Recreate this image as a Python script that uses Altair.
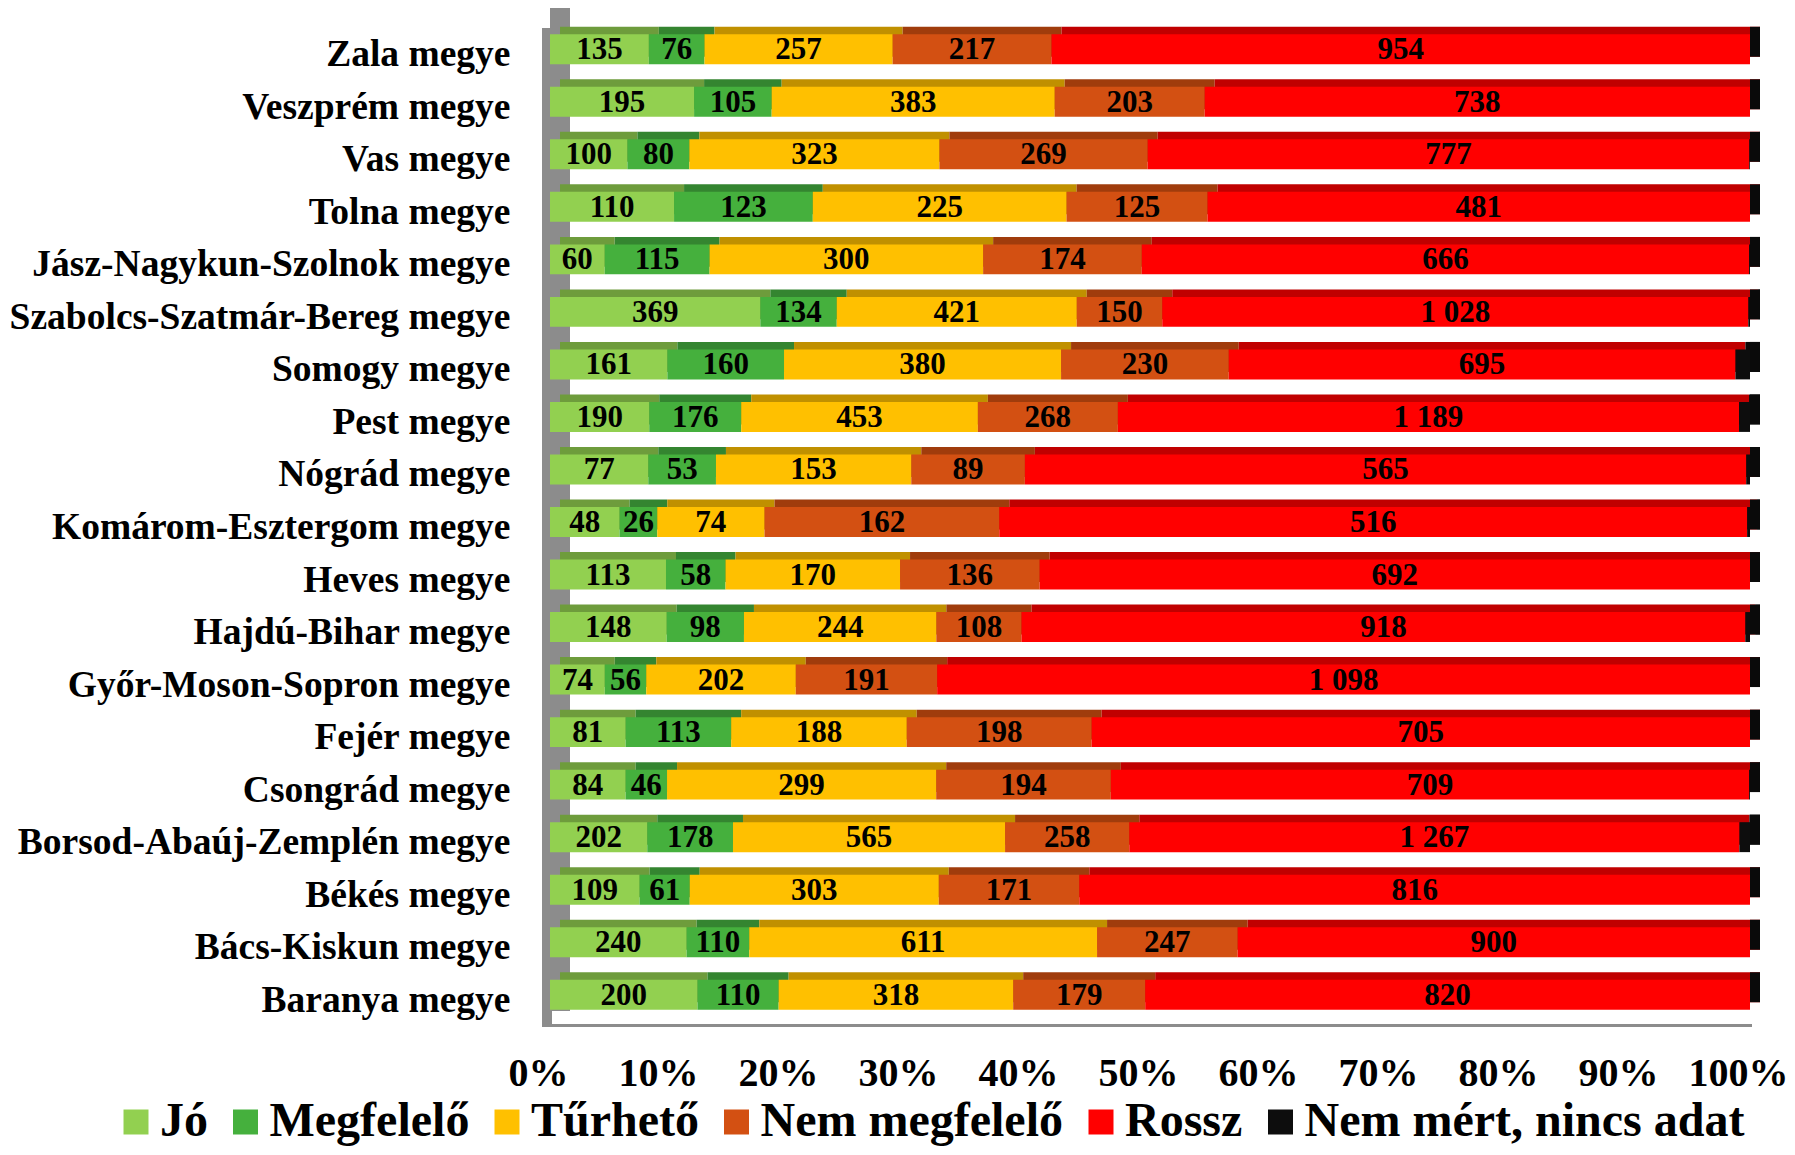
import altair as alt
import pandas as pd

counties = ["Zala megye", "Veszprém megye", "Vas megye", "Tolna megye",
            "Jász-Nagykun-Szolnok megye", "Szabolcs-Szatmár-Bereg megye",
            "Somogy megye", "Pest megye", "Nógrád megye", "Komárom-Esztergom megye",
            "Heves megye", "Hajdú-Bihar megye", "Győr-Moson-Sopron megye",
            "Fejér megye", "Csongrád megye", "Borsod-Abaúj-Zemplén megye",
            "Békés megye", "Bács-Kiskun megye", "Baranya megye"]

jo = [135, 195, 100, 110, 60, 369, 161, 190, 77, 48, 113, 148, 74, 81, 84, 202, 109, 240, 200]
megfelelo = [76, 105, 80, 123, 115, 134, 160, 176, 53, 26, 58, 98, 56, 113, 46, 178, 61, 110, 110]
turheto = [257, 383, 323, 225, 300, 421, 380, 453, 153, 74, 170, 244, 202, 188, 299, 565, 303, 611, 318]
nem_megfelelo = [217, 203, 269, 125, 174, 150, 230, 268, 89, 162, 136, 108, 191, 198, 194, 258, 171, 247, 179]
rossz = [954, 738, 777, 481, 666, 1028, 695, 1189, 565, 516, 692, 918, 1098, 705, 709, 1267, 816, 900, 820]
nem_mert = [0, 0, 1, 0, 1, 3, 20, 21, 3, 2, 0, 6, 0, 0, 1, 22, 0, 0, 0]

categories = ["Jó", "Megfelelő", "Tűrhető", "Nem megfelelő", "Rossz", "Nem mért, nincs adat"]
series = [jo, megfelelo, turheto, nem_megfelelo, rossz, nem_mert]
colors = ["#92D050", "#45B03D", "#FFC000", "#D35012", "#FF0000", "#0D0D0D"]
dark_colors = ["#6E9C3C", "#348530", "#C09000", "#A03C0C", "#C00000", "#080808"]

def fmt(v):
    return f"{v:,}".replace(",", " ")

rows = []
for i, c in enumerate(counties):
    for k, cat in enumerate(categories):
        v = series[k][i]
        rows.append({"county": c, "cat": cat, "order": k, "value": v,
                     "label": fmt(v) if k < 5 else "", "dark": dark_colors[k]})
df = pd.DataFrame(rows)

FONT = "Liberation Serif"
WALL = "#8C8C8C"
x_scale = alt.Scale(domain=[0, 1], nice=False, zero=True)
x_axis = alt.Axis(values=[i / 10 for i in range(11)], format=".0%", grid=False, domain=False,
                  ticks=False, labelFont=FONT, labelFontSize=40, labelFontWeight="bold",
                  labelColor="black", labelPadding=32, labelOffset=-12, labelFlush=False,
                  labelOverlap=False, title=None)
y_axis = alt.Axis(domain=False, ticks=False, labelFont=FONT, labelFontSize=37.5,
                  labelFontWeight="bold", labelColor="black", labelPadding=40,
                  labelOffset=6, labelLimit=700, title=None)
y_enc = alt.Y("county:N", sort=counties, axis=y_axis, title=None,
              scale=alt.Scale(paddingInner=0.43, paddingOuter=0.215))

base = alt.Chart(df).transform_stack(
    stack="value", groupby=["county"], sort=[alt.SortField("order", order="ascending")],
    as_=["x0", "x1"], offset="normalize"
).transform_calculate(mid="(datum.x0 + datum.x1) / 2")

one = pd.DataFrame({"z": [0]})
wall_front = alt.Chart(one).mark_rect(color=WALL, xOffset=-8, x2Offset=2).encode(
    x=alt.datum(0, scale=x_scale, axis=x_axis, title=None), x2=alt.datum(0),
    y=alt.value(5), y2=alt.value(1002)
)
wall_back = alt.Chart(one).mark_rect(color=WALL, xOffset=0, x2Offset=20).encode(
    x=alt.datum(0, scale=x_scale, axis=x_axis, title=None), x2=alt.datum(0),
    y=alt.value(-15), y2=alt.value(988)
)
floor = alt.Chart(one).mark_rect(color=WALL, xOffset=-8, x2Offset=2).encode(
    x=alt.datum(0, scale=x_scale, axis=x_axis, title=None), x2=alt.datum(1),
    y=alt.value(1001), y2=alt.value(1004)
)

back = base.mark_bar(xOffset=10, x2Offset=10, yOffset=-7.5, y2Offset=-7.5).encode(
    x=alt.X("x0:Q", scale=x_scale, axis=x_axis, title=None), x2="x1:Q",
    y=y_enc, color=alt.Color("dark:N", scale=None)
)

side = base.transform_filter("datum.order == 5").mark_bar(
    color="#0A0A0A", x2Offset=10, yOffset=-7.5, y2Offset=-7.5
).encode(
    x=alt.datum(1, scale=x_scale, axis=x_axis, title=None), x2=alt.datum(1), y=y_enc
)

front = base.mark_bar().encode(
    x=alt.X("x0:Q", scale=x_scale, axis=x_axis, title=None), x2="x1:Q",
    y=y_enc,
    color=alt.Color("cat:N", scale=alt.Scale(domain=categories, range=colors),
                    legend=alt.Legend(title=None, orient="none", legendX=-438, legendY=1075,
                                      direction="horizontal", symbolType="square",
                                      symbolSize=625, symbolStrokeWidth=0, symbolOpacity=1,
                                      labelFont=FONT, labelFontSize=48, labelFontWeight="bold",
                                      labelColor="black", labelOffset=0, columnPadding=13.5,
                                      labelLimit=1000))
)

labels = base.transform_filter("datum.order < 5").mark_text(
    font=FONT, fontWeight="bold", fontSize=31, color="black", baseline="middle", dy=1
).encode(
    x=alt.X("mid:Q", scale=x_scale, axis=x_axis, title=None), y=y_enc, text="label:N"
)

chart = alt.layer(wall_front, wall_back, floor, back, side, front, labels).properties(
    width=1200, height=998,
    padding={"left": 542, "top": 15, "right": 37, "bottom": 126},
    autosize=alt.AutoSizeParams(type="none")
).configure_view(stroke=None)

chart.save("out.html", embed_options={"renderer": "svg", "actions": False})
